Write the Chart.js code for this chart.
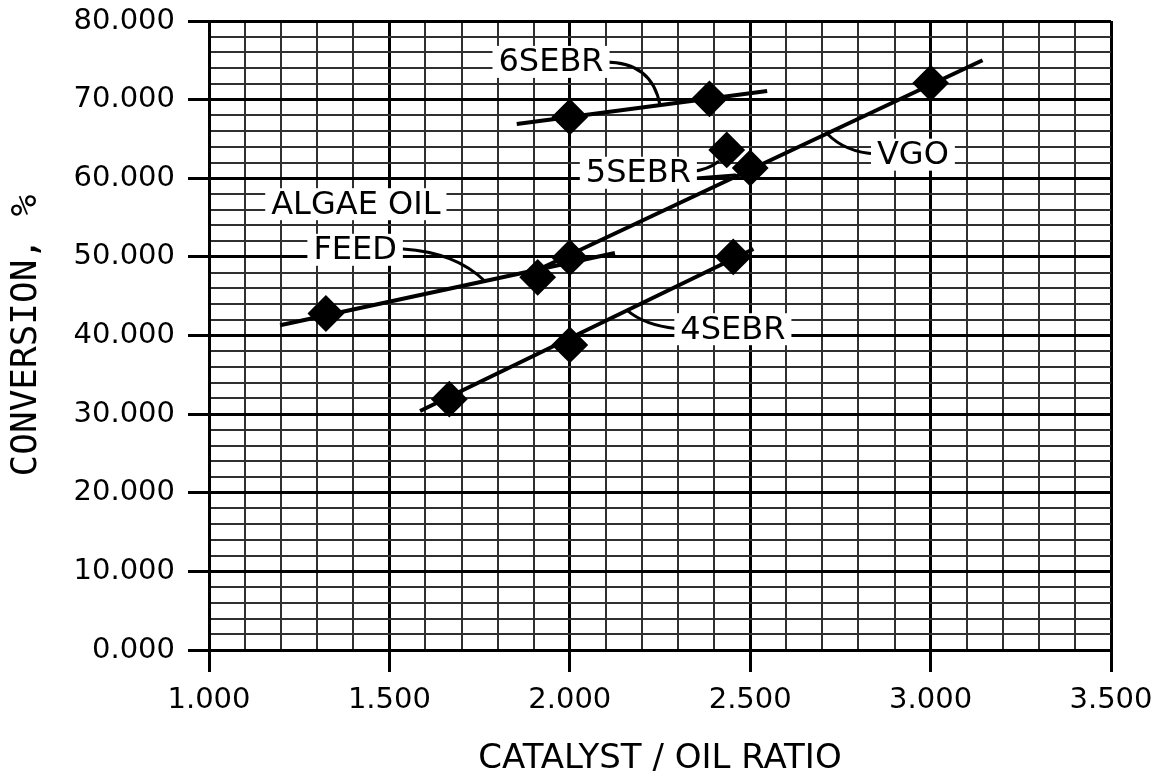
<!DOCTYPE html>
<html>
<head>
<meta charset="utf-8">
<script src="https://cdn.jsdelivr.net/npm/chart.js@4.4.0/dist/chart.umd.min.js"></script>
<style>
  html, body { margin: 0; padding: 0; background: #fff; }
  #wrap { width: 1169px; height: 780px; }
</style>
</head>
<body>
<div id="wrap"><canvas id="conv"></canvas></div>
<script>
// measured runs (catalyst/oil ratio vs conversion %)
const algaeX = [1.324, 1.911];
const algaeY = [42.8, 47.4];
const vgoX = [2.0, 3.0];
const vgoY = [49.9, 72.1];
const sebr4X = [1.666, 2.0, 2.453];
const sebr4Y = [31.9, 38.8, 50.0];
const sebr5X = [2.435, 2.5];
const sebr5Y = [63.6, 61.3];
const sebr6X = [2.0, 2.387];
const sebr6Y = [67.8, 70.1];

// trend lines, start and end of each
const algaeFitX = [1.197, 2.125];
const algaeFitY = [41.3, 50.5];
const vgoFitX = [1.9, 3.144];
const vgoFitY = [48.1, 75.0];
const sebr4FitX = [1.585, 2.509];
const sebr4FitY = [30.4, 51.0];
const sebr6FitX = [1.853, 2.547];
const sebr6FitY = [66.9, 71.1];

// axis ranges and label spacing
const xMin = 1, xMax = 3.5, xMinor = 0.1, xMajor = 0.5;
const yMin = 0, yMax = 80, yMinor = 2, yMajor = 10;

// callout text placed in data units
const callouts = [
  { text: '6SEBR', x: 1.948, y: 74.8 },
  { text: '5SEBR', x: 2.190, y: 60.7 },
  { text: 'VGO', x: 2.951, y: 63.0 },
  { text: 'ALGAE OIL', x: 1.407, y: 56.7 },
  { text: 'FEED', x: 1.405, y: 50.9 },
  { text: '4SEBR', x: 2.452, y: 40.8 }
];
// leader curves: start, control, end
const leaders = [
  [[2.098, 74.8], [2.228, 74.8], [2.250, 69.3]],
  [[2.342, 60.9], [2.383, 61.1], [2.411, 62.1]],
  [[2.342, 60.0], [2.400, 60.2], [2.458, 60.4]],
  [[2.849, 63.1], [2.763, 63.3], [2.713, 65.7]],
  [[1.538, 51.0], [1.682, 50.6], [1.765, 46.9]],
  [[2.294, 40.9], [2.208, 41.3], [2.159, 43.2]]
];

const pts = (xs, ys) => xs.map((v, i) => ({ x: v, y: ys[i] }));
const onStep = (v, s) => Math.abs(v / s - Math.round(v / s)) < 1e-6;

const calloutPlugin = {
  id: 'callouts',
  afterDatasetsDraw(chart) {
    const { ctx, scales: { x, y } } = chart;
    ctx.save();
    ctx.lineWidth = 3;
    ctx.strokeStyle = '#000';
    ctx.lineCap = 'round';
    leaders.forEach(([a, c, b]) => {
      ctx.beginPath();
      ctx.moveTo(x.getPixelForValue(a[0]), y.getPixelForValue(a[1]));
      ctx.quadraticCurveTo(x.getPixelForValue(c[0]), y.getPixelForValue(c[1]),
                           x.getPixelForValue(b[0]), y.getPixelForValue(b[1]));
      ctx.stroke();
    });
    ctx.font = '32px "DejaVu Sans"';
    ctx.textAlign = 'center';
    ctx.textBaseline = 'middle';
    callouts.forEach(c => {
      const px = x.getPixelForValue(c.x);
      const py = y.getPixelForValue(c.y);
      const w = ctx.measureText(c.text).width + 12;
      ctx.fillStyle = '#fff';
      ctx.fillRect(px - w / 2, py - 16, w, 32);
      ctx.fillStyle = '#000';
      ctx.fillText(c.text, px, py + 1);
    });
    ctx.restore();
  }
};

const fitLine = (label, xs, ys) => ({
  label, data: pts(xs, ys), showLine: true,
  borderColor: '#000', borderWidth: 4, pointRadius: 0, fill: false
});
const marks = (label, xs, ys) => ({
  label, data: pts(xs, ys), showLine: false,
  pointStyle: 'rectRot', pointRadius: 17, borderWidth: 2,
  backgroundColor: '#000', borderColor: '#000'
});

const gridFor = (major, tickLen) => ({
  color: c => (c.tick && onStep(c.tick.value, major)) ? '#000' : '#303030',
  lineWidth: c => (c.tick && onStep(c.tick.value, major)) ? 3 : 2,
  tickColor: c => (c.tick && onStep(c.tick.value, major)) ? '#000' : 'rgba(0,0,0,0)',
  tickWidth: 3,
  tickLength: tickLen
});

new Chart('conv', {
  type: 'scatter',
  data: {
    datasets: [
      fitLine('Algae oil feed fit', algaeFitX, algaeFitY),
      fitLine('VGO fit', vgoFitX, vgoFitY),
      fitLine('4SEBR fit', sebr4FitX, sebr4FitY),
      fitLine('6SEBR fit', sebr6FitX, sebr6FitY),
      marks('Algae oil feed', algaeX, algaeY),
      marks('VGO', vgoX, vgoY),
      marks('4SEBR', sebr4X, sebr4Y),
      marks('5SEBR', sebr5X, sebr5Y),
      marks('6SEBR', sebr6X, sebr6Y)
    ]
  },
  options: {
    responsive: true,
    maintainAspectRatio: false,
    animation: false,
    layout: { padding: { top: 21, right: 58, left: 0, bottom: 0 } },
    plugins: { legend: { display: false }, tooltip: { enabled: false } },
    scales: {
      x: {
        type: 'linear', min: xMin, max: xMax,
        afterFit: s => { s.height = 130; s.paddingLeft = 0; s.paddingRight = 0; },
        border: { display: true, color: '#000', width: 3 },
        grid: gridFor(xMajor, 22),
        ticks: {
          stepSize: xMinor, autoSkip: false, maxRotation: 0, padding: 11,
          color: '#000', font: { family: 'DejaVu Sans', size: 29 },
          callback: v => onStep(v, xMajor) ? v.toFixed(3) : ''
        },
        title: {
          display: true, text: 'CATALYST / OIL RATIO', color: '#000',
          font: { family: 'DejaVu Sans', size: 34 }, padding: { top: 0, bottom: 0 }
        }
      },
      y: {
        type: 'linear', min: yMin, max: yMax,
        afterFit: s => { s.width = 209; s.paddingTop = 0; s.paddingBottom = 0; },
        border: { display: true, color: '#000', width: 3 },
        grid: gridFor(yMajor, 21),
        ticks: {
          stepSize: yMinor, autoSkip: false, maxTicksLimit: 100, padding: 13,
          color: '#000', font: { family: 'DejaVu Sans', size: 29 },
          callback: v => onStep(v, yMajor) ? v.toFixed(3) : ''
        },
        title: {
          display: true, text: 'CONVERSION, %', color: '#000',
          font: { family: 'DejaVu Sans Mono', size: 36 }, padding: { top: 5, bottom: 0 }
        }
      }
    }
  },
  plugins: [calloutPlugin]
});
</script>
</body>
</html>
